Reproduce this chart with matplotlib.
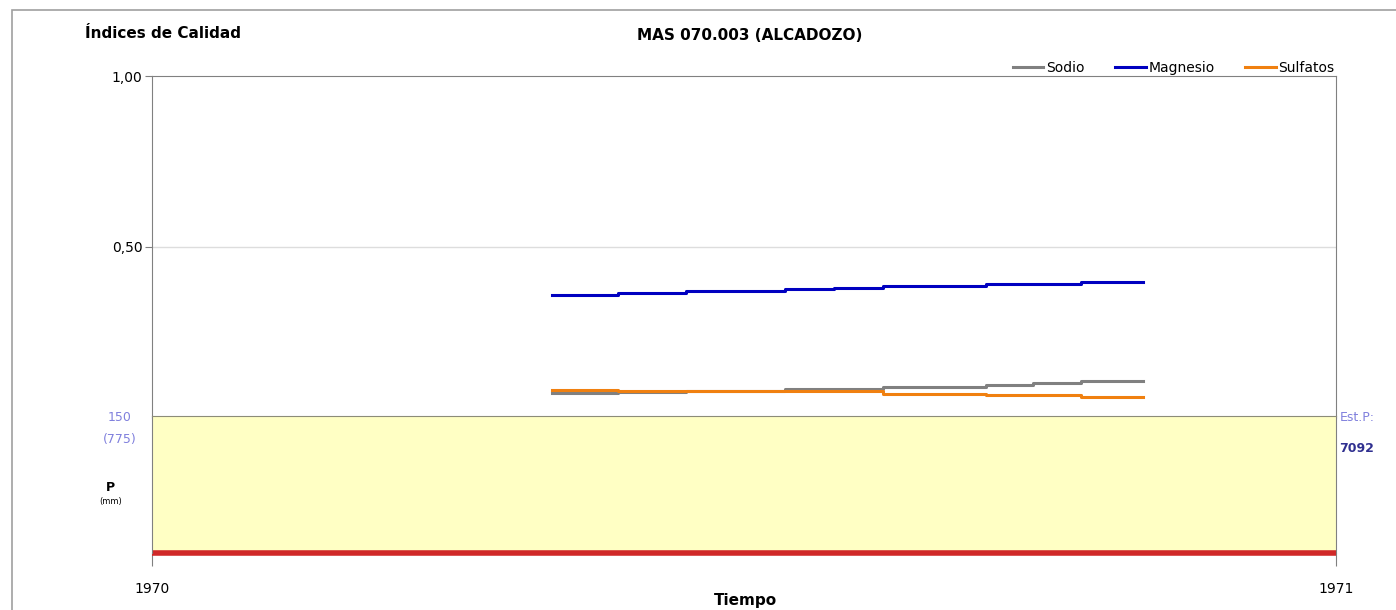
import matplotlib
matplotlib.use("Agg")
import matplotlib.pyplot as plt
from matplotlib.patches import Rectangle

# step boundaries (decimal years) and index values per step
fechas = [1970.338, 1970.394, 1970.451, 1970.535, 1970.576, 1970.617,
          1970.704, 1970.744, 1970.785, 1970.837]
sodio = [0.073, 0.075, 0.0775, 0.086, 0.086, 0.092, 0.097, 0.103, 0.108]
magnesio = [0.360, 0.365, 0.370, 0.376, 0.381, 0.387, 0.392, 0.392, 0.398]
sulfatos = [0.082, 0.080, 0.080, 0.079, 0.079, 0.0716, 0.0675, 0.0675, 0.061]

# precipitation panel
precip_fechas = [1970.0, 1971.0]
precip = [0, 0]
p_max = 150
p_media = 775
estacion = "7092"

W, H = 1396, 610
fig = plt.figure(figsize=(W / 100, H / 100), dpi=100)

# outer frame (open on the right and bottom)
fig.patches.append(Rectangle((12 / W, -0.05), 1.1, 1.05 - 10 / H,
                             transform=fig.transFigure, fill=False,
                             edgecolor="#a0a0a0", linewidth=1.2))

left = 152 / W
width = 1184 / W
ax = fig.add_axes([left, 1 - 418 / H, width, (418 - 76) / H])
axp = fig.add_axes([left, 1 - 553 / H, width, (553 - 416) / H])

# upper panel: quality indices
ax.plot(fechas, sodio + sodio[-1:], drawstyle="steps-post", color="#808080", lw=2.2, label="Sodio")
ax.plot(fechas, magnesio + magnesio[-1:], drawstyle="steps-post", color="#0000c0", lw=2.2, label="Magnesio")
ax.plot(fechas, sulfatos + sulfatos[-1:], drawstyle="steps-post", color="#f08010", lw=2.2, label="Sulfatos")
ax.set_xlim(1970, 1971)
ax.set_ylim(0, 1)
ax.set_yticks([0.5, 1.0])
ax.set_yticklabels(["0,50", "1,00"], fontsize=10)
ax.tick_params(axis="y", length=5, color="#808080", pad=2)
ax.set_xticks([])
ax.axhline(0.5, color="#dddddd", lw=1, zorder=0)
for s in ["left", "top", "right"]:
    ax.spines[s].set_color("#808080")
ax.spines["bottom"].set_visible(False)
ax.patch.set_alpha(0)

leg = ax.legend(loc="lower right", bbox_to_anchor=(1.0, 1.0), ncol=3, frameon=False,
                fontsize=10, handlelength=2.2, handletextpad=0.2, columnspacing=2.2,
                borderaxespad=0.1, borderpad=0.0)

# lower panel: precipitation
axp.set_facecolor("#ffffc4")
axp.plot(precip_fechas, precip, color="#d02828", lw=4, solid_capstyle="butt", clip_on=False)
axp.set_xlim(1970, 1971)
axp.set_ylim(0, p_max)
axp.set_yticks([])
axp.set_xticks([1970, 1971])
axp.set_xticklabels(["1970", "1971"], fontsize=10)
axp.tick_params(axis="x", length=9, color="#808080", pad=12)
axp.spines["top"].set_color("#8c8c78")
axp.spines["left"].set_color("#808080")
axp.spines["right"].set_color("#808080")
axp.spines["bottom"].set_visible(False)

axp.text(-0.027, 0.99, str(p_max), transform=axp.transAxes, fontsize=9, color="#8080dd",
         ha="center", va="center")
axp.text(-0.027, 0.825, f"({p_media})", transform=axp.transAxes, fontsize=9, color="#8080dd",
         ha="center", va="center")
axp.text(-0.035, 0.45, "P", transform=axp.transAxes, fontsize=9, fontweight="bold", ha="center")
axp.text(-0.035, 0.36, "(mm)", transform=axp.transAxes, fontsize=6, ha="center")
axp.text(1.003, 0.99, "Est.P:", transform=axp.transAxes, fontsize=9, color="#8080dd", va="center")
axp.text(1.003, 0.76, estacion, transform=axp.transAxes, fontsize=9, color="#303090",
         va="center", fontweight="bold")

fig.text(85 / W, 1 - 33 / H, "Índices de Calidad", fontsize=11, fontweight="bold", va="center")
fig.text(750 / W, 1 - 35 / H, "MAS 070.003 (ALCADOZO)", fontsize=11, fontweight="bold",
         va="center", ha="center")
fig.text(745 / W, 1.5 / H, "Tiempo", fontsize=11, fontweight="bold", va="bottom", ha="center")

fig.savefig("out.png", dpi=100)
